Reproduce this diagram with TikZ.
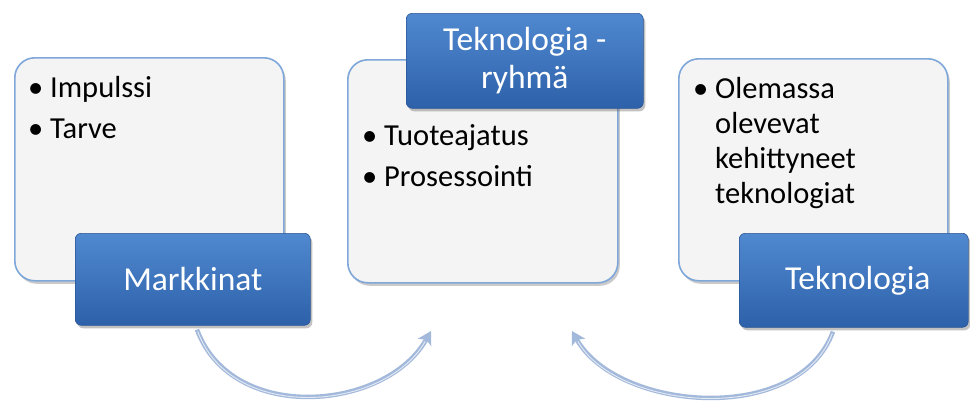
\documentclass[tikz,border=0pt]{standalone}
\usepackage{fontspec}
\setmainfont{Carlito}
\usetikzlibrary{shadows,arrows.meta,calc}
\definecolor{boxfill}{HTML}{F4F4F4}
\definecolor{boxline}{HTML}{7FA7D9}
\definecolor{bluetop}{HTML}{5089D0}
\definecolor{bluebot}{HTML}{2D61AA}
\definecolor{bluedraw}{HTML}{2A5596}
\definecolor{arrowc}{HTML}{A3B9DB}
\tikzset{
  card/.style={draw=boxline, line width=1.6pt, fill=boxfill, rounded corners=20pt,
    anchor=north west, inner sep=0pt,
    drop shadow={opacity=0.35, shadow xshift=2pt, shadow yshift=-3pt, fill=black!60}},
  titlebox/.style={rounded corners=6pt, top color=bluetop, bottom color=bluebot,
    draw=bluedraw, line width=0.6pt, anchor=north west, inner sep=0pt,
    drop shadow={opacity=0.4, shadow xshift=2pt, shadow yshift=-3pt, fill=black!60}},
  titletext/.style={text=white, font=\fontsize{33.5}{38}\selectfont, align=center},
  bul/.style={anchor=base west, inner sep=0pt, font=\fontsize{30.5}{35}\selectfont, text=black},
  flowarrow/.style={draw=arrowc, line width=4.5pt,
    -{Stealth[length=13pt,width=15pt,inset=3pt]}},
  flowhi/.style={draw=white, line width=0.9pt, opacity=0.7},
}
\newcommand{\bl}{\makebox[22pt][l]{•}}
\begin{document}
\begin{tikzpicture}[x=1pt,y=-1pt]
\useasboundingbox (0,0) rectangle (970,407);

% cards
\node[card, minimum width=269pt, minimum height=223pt] (c1) at (14,57) {};
\node[card, minimum width=270pt, minimum height=223pt] (c2) at (347,59) {};
\node[card, minimum width=269pt, minimum height=222pt] (c3) at (678,58) {};

% bullet texts
\node[bul] (t11) at (28,97) {\bl Impulssi};
\node[bul] (t12) at (28,138) {\bl Tarve};
\node[bul] (t21) at (362,145) {\bl Tuoteajatus};
\node[bul] (t22) at (362,186) {\bl Prosessointi};
\node[bul] (t31) at (693,98) {\bl Olemassa};
\node[bul] (t32) at (715,133) {olevevat};
\node[bul] (t33) at (715,168) {kehittyneet};
\node[bul] (t34) at (715,203) {teknologiat};

% title boxes
\node[titlebox, minimum width=235pt, minimum height=92pt] (m) at (75,233) {};
\node[titletext] (mt) at (m.center) {Markkinat};
\node[titlebox, minimum width=237pt, minimum height=95pt] (r) at (406,13) {};
\node[titletext] (rt) at (r.center) {Teknologia -\\ryhmä};
\node[titlebox, minimum width=229pt, minimum height=94pt] (k) at (739,233) {};
\node[titletext] (kt) at ([xshift=4pt]k.center) {Teknologia};

% arrow end points
\coordinate (a1s) at ($(m.south west)+(122,4)$);
\coordinate (a1e) at (431,331);
\coordinate (a2s) at ($(k.south west)+(94,4)$);
\coordinate (a2e) at (572,331);

\draw[flowarrow] (a1s) .. controls +(35,95) and +(-45,80) .. (a1e);
\draw[flowhi, shorten >=12pt, shorten <=2pt] (a1s) .. controls +(35,95) and +(-45,80) .. (a1e);
\draw[flowarrow] (a2s) .. controls +(-35,95) and +(45,80) .. (a2e);
\draw[flowhi, shorten >=12pt, shorten <=2pt] (a2s) .. controls +(-35,95) and +(45,80) .. (a2e);
\end{tikzpicture}
\end{document}
